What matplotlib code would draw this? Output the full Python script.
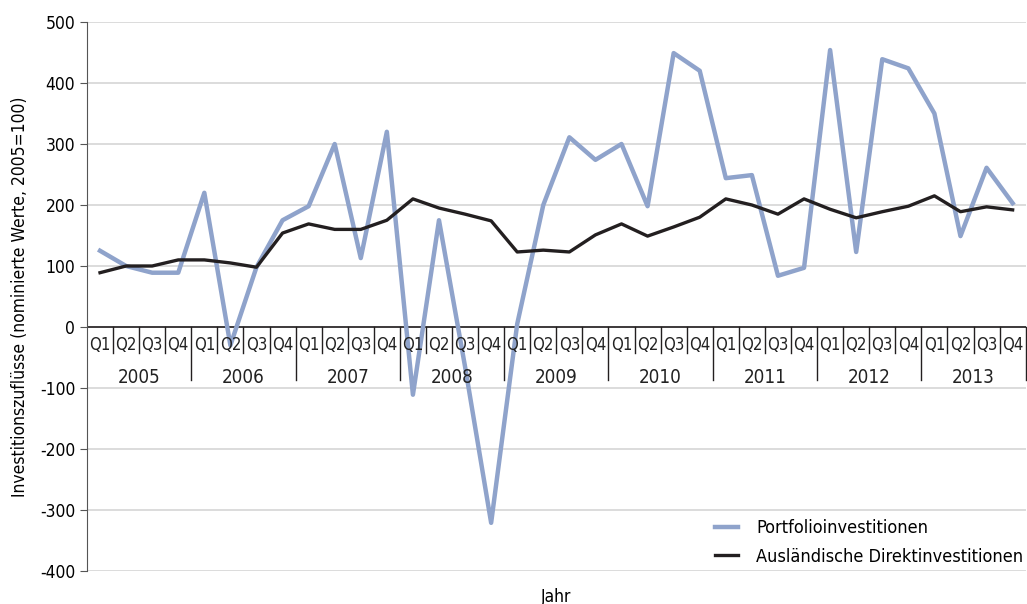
"""Investitionszuflüsse: Portfolio- vs. ausländische Direktinvestitionen, 2005-2013 (Quartale)."""

import matplotlib

matplotlib.use("Agg")
import matplotlib.pyplot as plt
import numpy as np

plt.rcParams["font.family"] = ["DejaVu Sans"]
plt.rcParams["font.stretch"] = "condensed"
plt.rcParams["axes.unicode_minus"] = False

years = ["2005", "2006", "2007", "2008", "2009", "2010", "2011", "2012", "2013"]
quarters = ["Q1", "Q2", "Q3", "Q4"]

# Werte je Quartal, 2005=100
portfolio = [
    125, 100, 89, 89,
    220, -30, 98, 175,
    198, 300, 113, 320,
    -111, 175, -65, -321,
    5, 200, 311, 274,
    300, 198, 449, 420,
    244, 249, 84, 97,
    454, 123, 439, 424,
    350, 149, 261, 203,
]
fdi = [
    89, 100, 100, 110,
    110, 105, 98, 154,
    169, 160, 160, 175,
    210, 195, 185, 174,
    123, 126, 123, 151,
    169, 149, 164, 180,
    210, 200, 185, 210,
    193, 179, 189, 198,
    215, 189, 197, 192,
]

BLUE = "#8fa3cb"
BLACK = "#231f20"


def main() -> None:
    fig = plt.figure(figsize=(10.27, 6.04), dpi=100)
    ax = fig.add_axes([0.0847, 0.0546, 0.914, 0.909])

    x = np.arange(len(portfolio))
    ax.plot(x, portfolio, color=BLUE, lw=3.2, label="Portfolioinvestitionen", zorder=3)
    ax.plot(x, fdi, color=BLACK, lw=2.4, label="Ausländische Direktinvestitionen", zorder=4)

    ax.set_xlim(-0.5, len(x) - 0.5)
    ax.set_ylim(-400, 500)
    ax.set_yticks(np.arange(-400, 501, 100))
    ax.tick_params(axis="y", labelsize=12.5, length=5, color="#555555", direction="out")
    ax.set_xticks([])
    ax.yaxis.grid(True, color="#d6d6d6", lw=1.2)
    ax.set_axisbelow(True)

    for side in ["top", "right", "bottom"]:
        ax.spines[side].set_visible(False)
    ax.spines["left"].set_color("#555555")
    ax.axhline(0, color=BLACK, lw=1.2, zorder=2)

    # Kategorie-Beschriftung unter der Nulllinie
    trans = ax.get_xaxis_transform()
    y0 = ax.transData.transform((0, 0))[1]
    y0_ax = ax.transAxes.inverted().transform((0, y0))[1]
    px = 1 / (0.909 * 604)
    for i in range(len(x)):
        ax.annotate(quarters[i % 4], xy=(i, 0), xytext=(0, -18), textcoords="offset pixels",
                    ha="center", va="center", fontsize=12, color="#222222")
        boundary = i - 0.5
        depth = 53 if i % 4 == 0 else 26
        if i > 0:
            ax.plot([boundary, boundary], [y0_ax, y0_ax - depth * px], transform=trans,
                    color=BLACK, lw=1.0, clip_on=False)
    ax.plot([len(x) - 0.5] * 2, [y0_ax, y0_ax - 53 * px], transform=trans,
            color=BLACK, lw=1.0, clip_on=False)
    for k, year in enumerate(years):
        ax.annotate(year, xy=(4 * k + 1.5, 0), xytext=(0, -50), textcoords="offset pixels",
                    ha="center", va="center", fontsize=13.5, color="#222222")

    ax.set_ylabel("Investitionszuflüsse (nominierte Werte, 2005=100)", fontsize=12.5, labelpad=8)
    ax.set_xlabel("Jahr", fontsize=12.5, labelpad=12)

    ax.legend(loc="lower right", bbox_to_anchor=(1.015, -0.02), frameon=False, fontsize=13,
              handlelength=1.3, handletextpad=1.0, labelspacing=0.6)

    fig.savefig("out.png", dpi=100)
    plt.close(fig)


if __name__ == "__main__":
    main()
